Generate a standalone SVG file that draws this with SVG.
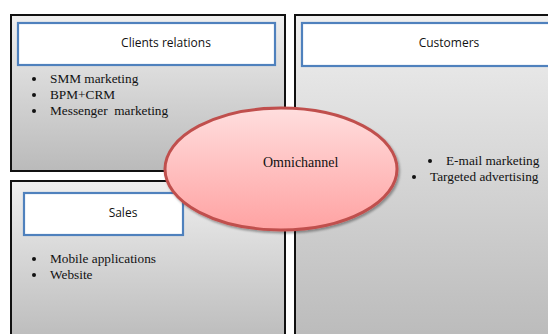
<svg xmlns="http://www.w3.org/2000/svg" width="548" height="334" viewBox="0 0 548 334">
<defs>
<linearGradient id="gray" x1="0" y1="0" x2="0" y2="1">
<stop offset="0" stop-color="#efefef"/>
<stop offset="1" stop-color="#bababa"/>
</linearGradient>
<linearGradient id="pink" x1="0" y1="0" x2="0" y2="1">
<stop offset="0" stop-color="#ffdede"/>
<stop offset="1" stop-color="#ffa2a2"/>
</linearGradient>
<filter id="sh" x="-10%" y="-10%" width="130%" height="130%">
<feDropShadow dx="1.5" dy="2" stdDeviation="1.2" flood-color="#000" flood-opacity="0.35"/>
</filter>
</defs>
<style>
.box{fill:url(#gray);stroke:#111;stroke-width:2}
.hdr{fill:#fff;stroke:#4f81bd;stroke-width:2.2}
.ht{font-family:"Open Sans","Liberation Sans",sans-serif;font-size:12px;fill:#111;text-anchor:middle}
.bt{font-family:"Liberation Serif",serif;font-size:13.3px;fill:#111}
.dot{fill:#111}
.ell{fill:url(#pink);stroke:#c0504d;stroke-width:3}
.et{font-family:"Liberation Serif",serif;font-size:14px;fill:#111}
</style>
<rect width="548" height="334" fill="#fff"/>
<g id="customers">
<rect class="box" x="295" y="15" width="262" height="330"/>
<rect class="hdr" x="302" y="23" width="256" height="43"/>
<text class="ht" x="449" y="47">Customers</text>
<circle class="dot" cx="430" cy="161" r="2"/>
<text class="bt" x="446" y="165">E-mail marketing</text>
<circle class="dot" cx="414" cy="177" r="2"/>
<text class="bt" x="430" y="181">Targeted advertising</text>
</g>
<g id="sales">
<rect class="box" x="11" y="181" width="274" height="165"/>
<rect class="hdr" x="24" y="193" width="159" height="42"/>
<text class="ht" x="123" y="217">Sales</text>
<circle class="dot" cx="34" cy="259" r="2"/>
<text class="bt" x="50" y="263">Mobile applications</text>
<circle class="dot" cx="34" cy="275" r="2"/>
<text class="bt" x="50" y="279">Website</text>
</g>
<g id="clients-relations">
<rect class="box" x="11" y="15" width="274" height="156"/>
<rect class="hdr" x="18" y="23" width="257" height="42"/>
<text class="ht" x="166" y="47">Clients relations</text>
<circle class="dot" cx="34" cy="79" r="2"/>
<text class="bt" x="50" y="83">SMM marketing</text>
<circle class="dot" cx="34" cy="95" r="2"/>
<text class="bt" x="50" y="99">BPM+CRM</text>
<circle class="dot" cx="34" cy="111" r="2"/>
<text class="bt" x="50" y="115" xml:space="preserve">Messenger  marketing</text>
</g>
<g id="connectors"></g>
<g id="omnichannel">
<ellipse class="ell" cx="281" cy="169" rx="116" ry="61" filter="url(#sh)"/>
<text class="et" x="263" y="167">Omnichannel</text>
</g>
</svg>
